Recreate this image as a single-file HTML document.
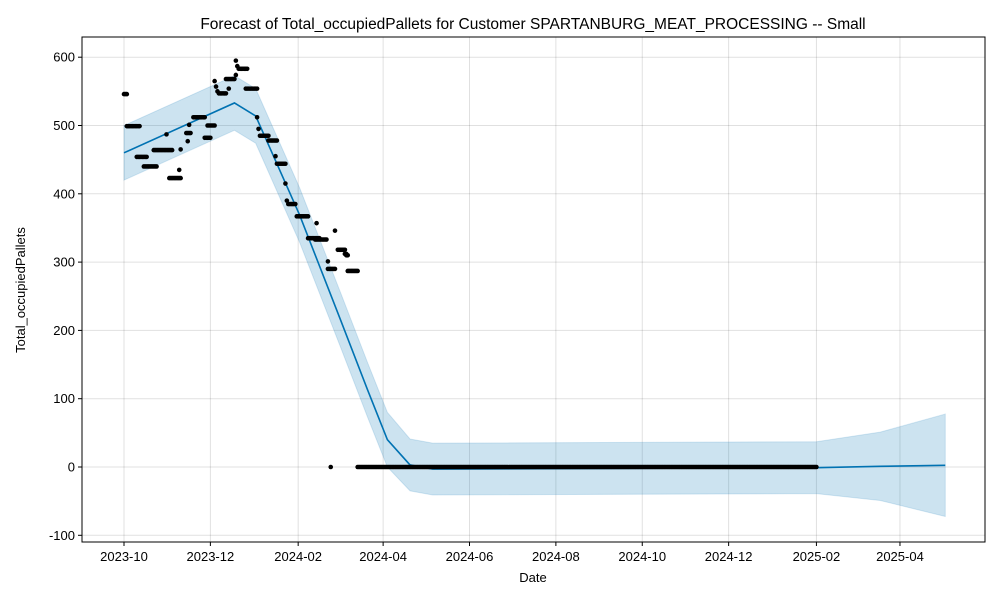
<!DOCTYPE html>
<html><head><meta charset="utf-8"><style>
body{margin:0;background:#fff}
svg text{font-family:"Liberation Sans","DejaVu Sans",sans-serif;fill:#000}
</style></head><body>
<svg id="chart" width="1000" height="600">
<rect x="0" y="0" width="1000" height="600" fill="#fff"/>
<text x="533" y="29" font-size="15.5" text-anchor="middle">Forecast of Total_occupiedPallets for Customer SPARTANBURG_MEAT_PROCESSING -- Small</text>
<g id="grid"></g>
<g id="band"></g>
<g id="trend"></g>
<g id="pts"></g>
<rect x="82" y="37" width="903" height="505" fill="none" stroke="#000" stroke-width="1"/>
<g id="axes"></g>
<text x="533" y="582" font-size="13" text-anchor="middle">Date</text>
<text x="25" y="290" font-size="13" text-anchor="middle" transform="rotate(-90 25 290)">Total_occupiedPallets</text>
</svg>
<script>
// days offset from 2023-10-01
const xTickLabels=["2023-10","2023-12","2024-02","2024-04","2024-06","2024-08","2024-10","2024-12","2025-02","2025-04"];
const xTickDays=[0,61,123,183,244,305,366,427,489,548];
const yTicks=[-100,0,100,200,300,400,500,600];
// observed segments: [startDay, endDay, value]
const obsStart=[0,2,9,14,21,30,32,39,40,44,45,46,49,57,59,64,65,66,67,72,74,79,79,80,81,86,94,95,96,102,107,108,114,115,116,122,130,136,135,144,144,149,151,156,157,158,146,165];
const obsEnd=[2,11,16,23,34,30,40,39,40,47,45,46,57,61,64,64,65,66,72,78,74,79,79,80,87,94,94,95,102,108,107,114,114,115,121,130,138,136,143,144,149,149,156,157,158,165,146,489];
const obsVal=[546,499,454,440,464,487,423,435,465,489,477,501,512,482,500,565,557,550,547,568,554,574,595,587,583,554,512,495,485,478,455,444,415,390,385,367,335,357,333,301,290,346,318,312,310,287,0,0];
// trend knots
const trendDays=[0,78,93,124,153,172,186,202,218,489,534,580];
const trendVals=[460,533,514,369,215,113,40,3,-3,-1,1,2.5];
const bandHalf=[40,40,40,40,40,40,40,38,38,38,50,75];

const X=d=>124+d*1.416, Y=v=>467-0.683*v;
const NS="http://www.w3.org/2000/svg";
function mk(tag,attrs,parent){const e=document.createElementNS(NS,tag);for(const k in attrs)e.setAttribute(k,attrs[k]);parent.appendChild(e);return e;}
const grid=document.getElementById('grid'),axes=document.getElementById('axes');
xTickDays.forEach((d,i)=>{
 const l=mk('line',{x1:X(d),x2:X(d),y1:37,y2:542,stroke:'#000','stroke-opacity':0.12},grid);
 
 
 const t=mk('line',{x1:X(d),x2:X(d),y1:542,y2:546,stroke:'#000'},axes);
 
 
 const tx=mk('text',{x:X(d),y:561,'font-size':13,'text-anchor':'middle'},axes);tx.textContent=xTickLabels[i];
 
 
});
yTicks.forEach(v=>{
 const l=mk('line',{x1:82,x2:985,y1:Y(v),y2:Y(v),stroke:'#000','stroke-opacity':0.12},grid);
 
 
 const t=mk('line',{x1:78,x2:82,y1:Y(v),y2:Y(v),stroke:'#000'},axes);
 
 
 const tx=mk('text',{x:75,y:Y(v)+4.5,'font-size':13,'text-anchor':'end'},axes);tx.textContent=v;
 
 
});
let up=[],lo=[];
trendDays.forEach((d,i)=>{up.push(X(d)+','+Y(trendVals[i]+bandHalf[i]));lo.unshift(X(d)+','+Y(trendVals[i]-bandHalf[i]));});
const band=mk('polygon',{points:up.concat(lo).join(' '),fill:'#0072B2','fill-opacity':0.2,stroke:'#0072B2','stroke-opacity':0.15},document.getElementById('band'));


const tl=mk('polyline',{points:trendDays.map((d,i)=>X(d)+','+Y(trendVals[i])).join(' '),fill:'none',stroke:'#0072B2','stroke-width':1.6},document.getElementById('trend'));


const pts=document.getElementById('pts');
obsStart.forEach((s,i)=>{
 for(let d=s;d<=obsEnd[i];d++){
  const c=mk('circle',{cx:X(d),cy:Y(obsVal[i]),r:2.3,fill:'#000'},pts);
  
  
 }
});
</script>
</body></html>
